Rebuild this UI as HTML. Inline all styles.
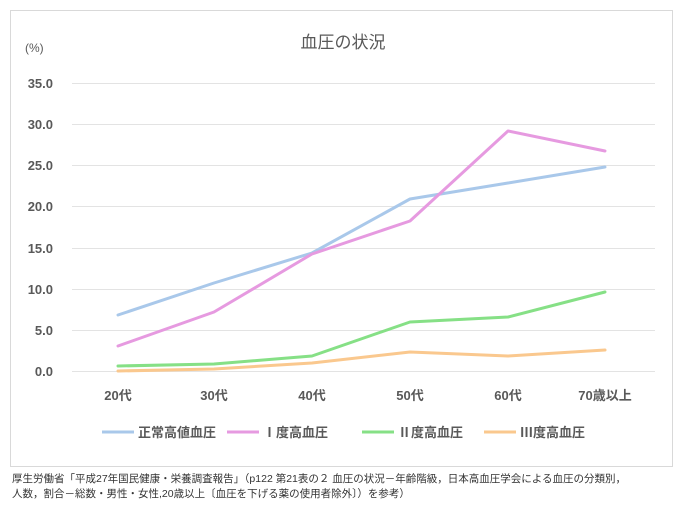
<!DOCTYPE html>
<html><head><meta charset="utf-8"><style>
body{margin:0;background:#fff;width:686px;height:508px;overflow:hidden;font-family:"Liberation Sans","Noto Sans CJK JP",sans-serif;}
</style></head><body>
<svg width="686" height="508" xmlns="http://www.w3.org/2000/svg" font-family="Liberation Sans, Noto Sans CJK JP, sans-serif">
<rect x="10.5" y="10.5" width="662" height="456" fill="#fff" stroke="#d9d9d9"/>
<text x="343" y="48" text-anchor="middle" font-size="17" fill="#595959">血圧の状況</text>
<text x="25" y="52" font-size="12" fill="#595959">(%)</text>
<g stroke="#e3e3e3" stroke-width="1">
<line x1="72" x2="655" y1="83.5" y2="83.5"/><line x1="72" x2="655" y1="124.5" y2="124.5"/>
<line x1="72" x2="655" y1="165.5" y2="165.5"/><line x1="72" x2="655" y1="206.5" y2="206.5"/>
<line x1="72" x2="655" y1="248.5" y2="248.5"/><line x1="72" x2="655" y1="289.5" y2="289.5"/>
<line x1="72" x2="655" y1="330.5" y2="330.5"/><line x1="72" x2="655" y1="371.5" y2="371.5"/>
</g>
<g font-size="13" fill="#595959" font-weight="bold" text-anchor="end">
<text x="53" y="88">35.0</text><text x="53" y="129">30.0</text><text x="53" y="170">25.0</text>
<text x="53" y="211">20.0</text><text x="53" y="253">15.0</text><text x="53" y="294">10.0</text>
<text x="53" y="335">5.0</text><text x="53" y="376">0.0</text>
</g>
<g font-size="13" fill="#595959" font-weight="bold" text-anchor="middle">
<text x="118" y="400">20代</text><text x="214" y="400">30代</text><text x="312" y="400">40代</text>
<text x="410" y="400">50代</text><text x="508" y="400">60代</text><text x="605" y="400">70歳以上</text>
</g>
<g fill="none" stroke-width="3" stroke-linejoin="round" stroke-linecap="round">
<polyline stroke="#a9c8ea" points="118,315 214,283 312,253 410,199 508,183 605,167"/>
<polyline stroke="#e69ae0" points="118,346 214,312 312,254 410,221 508,131 605,151"/>
<polyline stroke="#86e086" points="118,366 214,364 312,356 410,322 508,317 605,292"/>
<polyline stroke="#fac88e" points="118,371 214,369 312,363 410,352 508,356 605,350"/>
</g>
<g stroke-width="3">
<line x1="102" x2="134" y1="432" y2="432" stroke="#a9c8ea"/>
<line x1="227" x2="259" y1="432" y2="432" stroke="#e69ae0"/>
<line x1="362" x2="394" y1="432" y2="432" stroke="#86e086"/>
<line x1="484" x2="516" y1="432" y2="432" stroke="#fac88e"/>
</g>
<g font-size="13" fill="#595959" font-weight="bold">
<text x="138" y="437">正常高値血圧</text><text x="263" y="437">Ⅰ度高血圧</text>
<text x="398" y="437">Ⅱ度高血圧</text><text x="520" y="437">Ⅲ度高血圧</text>
</g>
<g font-size="10.5" fill="#333">
<text x="12" y="482">厚生労働省「平成27年国民健康・栄養調査報告」（p122 第21表の２ 血圧の状況－年齢階級，日本高血圧学会による血圧の分類別，</text>
<text x="12" y="497">人数，割合－総数・男性・女性,20歳以上〔血圧を下げる薬の使用者除外〕）を参考）</text>
</g>
</svg>
</body></html>
